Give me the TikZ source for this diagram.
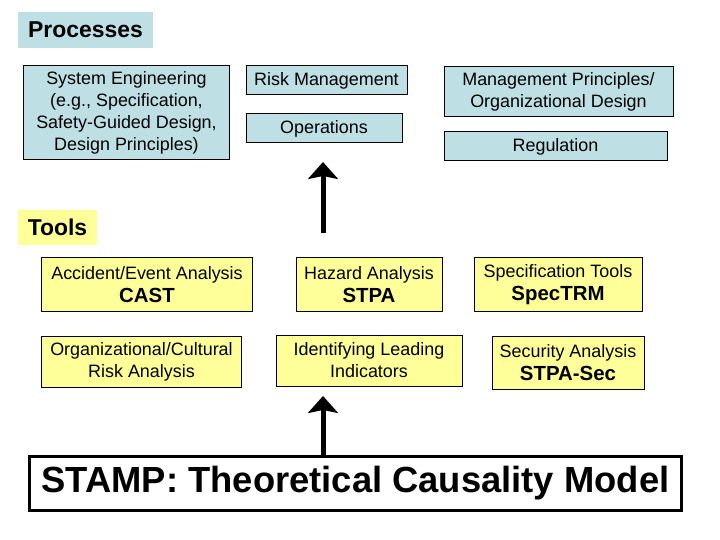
\documentclass[tikz,border=0pt]{standalone}
\usepackage{fontspec}
\setmainfont{Liberation Sans}
\usetikzlibrary{arrows.meta}
\definecolor{procblue}{RGB}{190,224,228}
\definecolor{toolyellow}{RGB}{255,255,153}
\newcommand{\regf}{\fontsize{18}{22}\selectfont}
\newcommand{\boldf}{\fontsize{20.5}{24}\selectfont\bfseries}
\tikzset{
  basebox/.style={draw=black, line width=1bp, inner sep=0pt, outer sep=0pt, align=center, font=\regf, text=black},
  procbox/.style={basebox, fill=procblue},
  toolbox/.style={basebox, fill=toolyellow},
  hdr/.style={inner sep=0pt, outer sep=0pt, font=\fontsize{23}{27}\selectfont\bfseries},
  bigarrow/.style={line width=5bp, -{Stealth[length=17bp, width=30bp, inset=3bp]}},
}
\begin{document}
\begin{tikzpicture}[x=1bp, y=-1bp]
\useasboundingbox (0,0) rectangle (720,540);
% headers
\node[hdr, fill=procblue, minimum width=135bp, minimum height=36bp] (proc) at (85.5,30) {Processes};
\node[hdr, fill=toolyellow, minimum width=79bp, minimum height=35bp] (tools) at (57.5,227.5) {Tools};
% process boxes
\node[procbox, minimum width=205bp, minimum height=94bp] (sys) at (126.5,113) {System Engineering\\(e.g., Specification,\\Safety-Guided Design,\\Design Principles)};
\node[procbox, minimum width=161bp, minimum height=29bp] (risk) at (326.5,80.5) {Risk Management};
\node[procbox, minimum width=156bp, minimum height=29bp] (ops) at (324,128.5) {Operations};
\node[procbox, minimum width=229bp, minimum height=50bp] (mgmt) at (558.5,92) {Management Principles/\\Organizational Design};
\node[procbox, minimum width=223bp, minimum height=29bp] (reg) at (555.5,146.5) {Regulation};
% tool boxes
\node[toolbox, minimum width=210bp, minimum height=53bp] (acc) at (147,284.5) {Accident/Event Analysis\\[1bp]{\boldf CAST}};
\node[toolbox, minimum width=199bp, minimum height=51bp] (org) at (141.5,361.5) {Organizational/Cultural\\Risk Analysis};
\node[toolbox, minimum width=146bp, minimum height=53bp] (haz) at (369,284.5) {Hazard Analysis\\[1bp]{\boldf STPA}};
\node[toolbox, minimum width=186bp, minimum height=51bp] (ident) at (369,360.5) {Identifying Leading\\Indicators};
\node[toolbox, minimum width=168bp, minimum height=53bp] (spec) at (558,284.5) {Specification Tools\\[1bp]{\boldf SpecTRM}};
\node[toolbox, minimum width=152bp, minimum height=53bp] (sec) at (568,362.5) {Security Analysis\\[1bp]{\boldf STPA-Sec}};
% STAMP
\node[draw=black, line width=3bp, fill=white, inner sep=0pt, outer sep=0pt, minimum width=651bp, minimum height=54bp, font=\fontsize{36.5}{40}\selectfont\bfseries] (stamp) at (355.5,483) {STAMP: Theoretical Causality Model};
% arrows
\coordinate (a1s) at (323,233);
\coordinate (a1e) at (323,162);
\coordinate (a2e) at (323,396);
\draw[bigarrow] (a1s) -- (a1e);
\draw[bigarrow] (stamp.north -| a2e) -- (a2e);
\end{tikzpicture}
\end{document}
